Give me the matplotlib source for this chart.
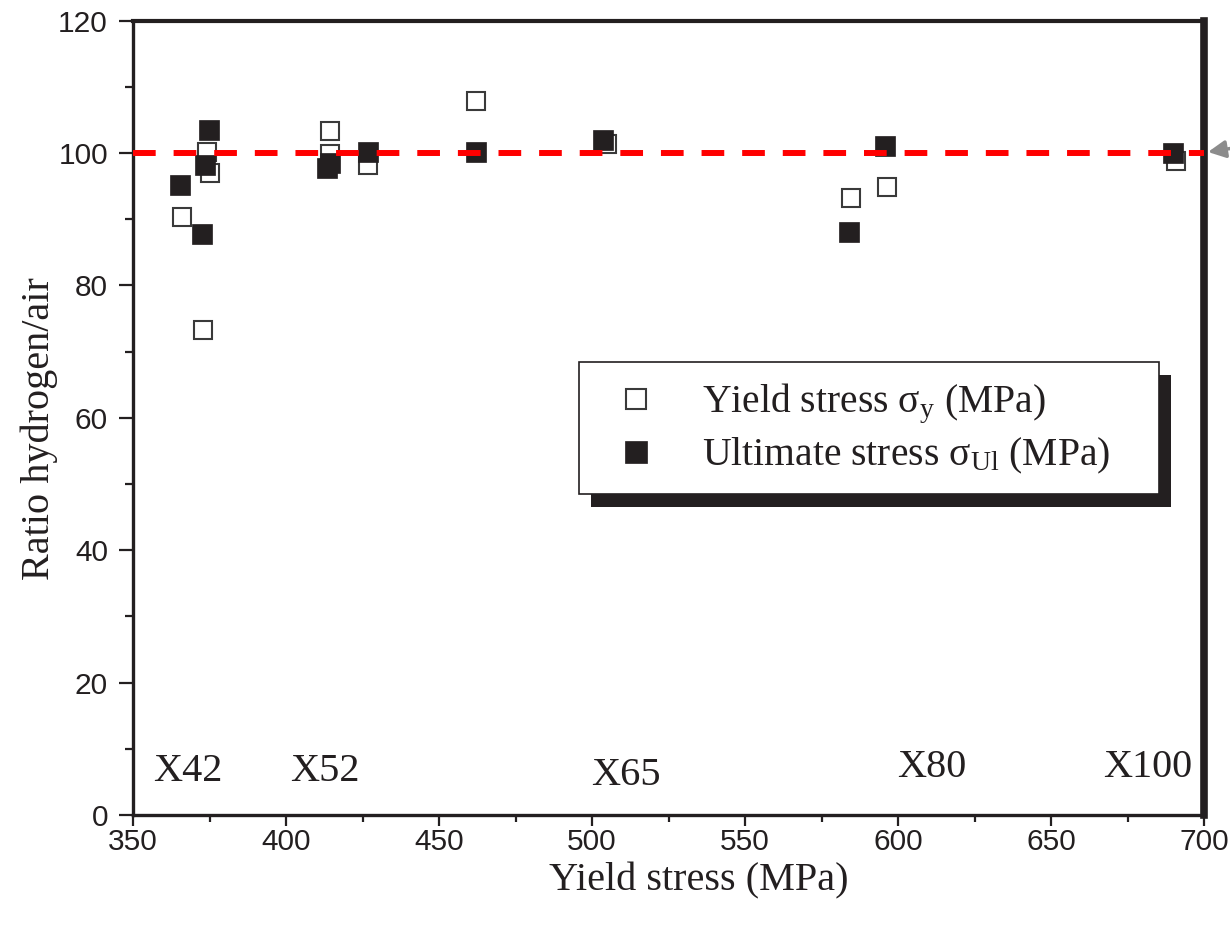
import matplotlib
matplotlib.use("Agg")
import matplotlib.pyplot as plt
from matplotlib.patches import Rectangle
from matplotlib.ticker import MultipleLocator

plt.rcParams['font.family'] = ['Liberation Sans', 'DejaVu Sans']
plt.rcParams['mathtext.fontset'] = 'custom'
plt.rcParams['mathtext.rm'] = 'Liberation Serif'
plt.rcParams['mathtext.it'] = 'Liberation Serif:italic'
plt.rcParams['mathtext.default'] = 'regular'

# ---- data ----
yield_x = [366.1, 372.8, 374.1, 375.2, 414.4, 414.4, 426.9, 462.1, 504.8, 584.6, 596.5, 690.8]
yield_ratio = [90.3, 73.2, 100.1, 96.9, 103.3, 99.9, 98.1, 107.8, 101.4, 93.2, 94.9, 98.8]

ult_x = [365.5, 372.4, 373.5, 374.7, 413.3, 414.3, 426.7, 462.0, 503.5, 584.0, 595.8, 689.8]
ult_ratio = [95.2, 87.8, 98.1, 103.5, 97.7, 98.5, 100.1, 100.1, 101.9, 88.0, 101.0, 100.0]

reference_ratio = 100

grade_labels = ['X42', 'X52', 'X65', 'X80', 'X100']
grade_x = [368, 412.7, 511, 611, 681.7]
grade_y = [6.5, 6.5, 6.0, 7.1, 7.1]

serif = 'Liberation Serif'

W, H = 1230, 926
fig = plt.figure(figsize=(W / 100, H / 100), dpi=100)
ax = fig.add_axes([133 / W, 1 - 815 / H, (1204 - 133) / W, (815 - 20.5) / H])

ax.plot(yield_x, yield_ratio, 's', ls='none', ms=12.9, mfc='white', mec='#3a3a3a',
        mew=1.5, zorder=3, label='Yield stress σ$_{y}$ (MPa)')
ax.plot(ult_x, ult_ratio, 's', ls='none', ms=14.2, mfc='#231f20', mec='#231f20',
        mew=0.5, zorder=3.1, label='Ultimate stress σ$_{Ul}$ (MPa)')

ax.axhline(reference_ratio, color='#ff0000', lw=4.3, dashes=(3.8, 3.0), zorder=5)

ax.set_xlim(350, 700)
ax.set_ylim(0, 120)
ax.xaxis.set_major_locator(MultipleLocator(50))
ax.xaxis.set_minor_locator(MultipleLocator(25))
ax.yaxis.set_major_locator(MultipleLocator(20))
ax.yaxis.set_minor_locator(MultipleLocator(10))

ax.tick_params(which='major', direction='out', width=1.6, labelsize=21.5,
               colors='#231f20', top=False, right=False)
ax.tick_params(which='minor', direction='out', width=1.6, top=False, right=False,
               colors='#231f20')
ax.tick_params(axis='y', which='major', length=10, pad=8)
ax.tick_params(axis='y', which='minor', length=6)
ax.tick_params(axis='x', which='major', length=8, pad=1)
ax.tick_params(axis='x', which='minor', length=5)

for side, lw in [('left', 2.4), ('bottom', 2.4), ('top', 3.0), ('right', 5.5)]:
    ax.spines[side].set_linewidth(lw)
    ax.spines[side].set_color('#231f20')

for lab, gx, gy in zip(grade_labels, grade_x, grade_y):
    ax.text(gx, gy, lab, ha='center', va='center', family=serif, fontsize=29,
            color='#231f20')

fig.text(699 / W, 1 - 881 / H, 'Yield stress (MPa)', ha='center', va='center',
         family=serif, fontsize=29, color='#231f20')
fig.text(39 / W, 1 - 429 / H, 'Ratio hydrogen/air', ha='center', va='center',
         rotation=90, family=serif, fontsize=29, color='#231f20')

# legend with offset black shadow
x0, y0, x1, y1 = 579, 362, 1159, 494
fig.patches.append(Rectangle((x0 + 12, H - y1 - 13), x1 - x0, y1 - y0,
                             transform=None, facecolor='#231f20', edgecolor='none',
                             zorder=1, figure=fig))
fig.patches.append(Rectangle((x0, H - y1), x1 - x0, y1 - y0, transform=None,
                             facecolor='white', edgecolor='#231f20', lw=1.2,
                             zorder=1.1, figure=fig))
leg = fig.legend(loc='upper left', bbox_to_anchor=(616 / W, 1 - 382 / H),
                 bbox_transform=fig.transFigure, frameon=False,
                 prop={'family': serif, 'size': 28.5}, borderpad=0, borderaxespad=0,
                 handlelength=1.0, handletextpad=1.18, labelspacing=0.25,
                 markerscale=1.15, labelcolor='#231f20')
leg.set_zorder(2)

# grey arrow pointing at the 100 % line on the right edge
fig.add_artist(matplotlib.patches.FancyArrowPatch(
    (1240, H - 147), (1208, H - 152), transform=None, arrowstyle='-|>',
    mutation_scale=26, color='#8c8c8c', lw=2.5, shrinkA=0, shrinkB=0, zorder=3))

fig.savefig('out.png', dpi=100)
